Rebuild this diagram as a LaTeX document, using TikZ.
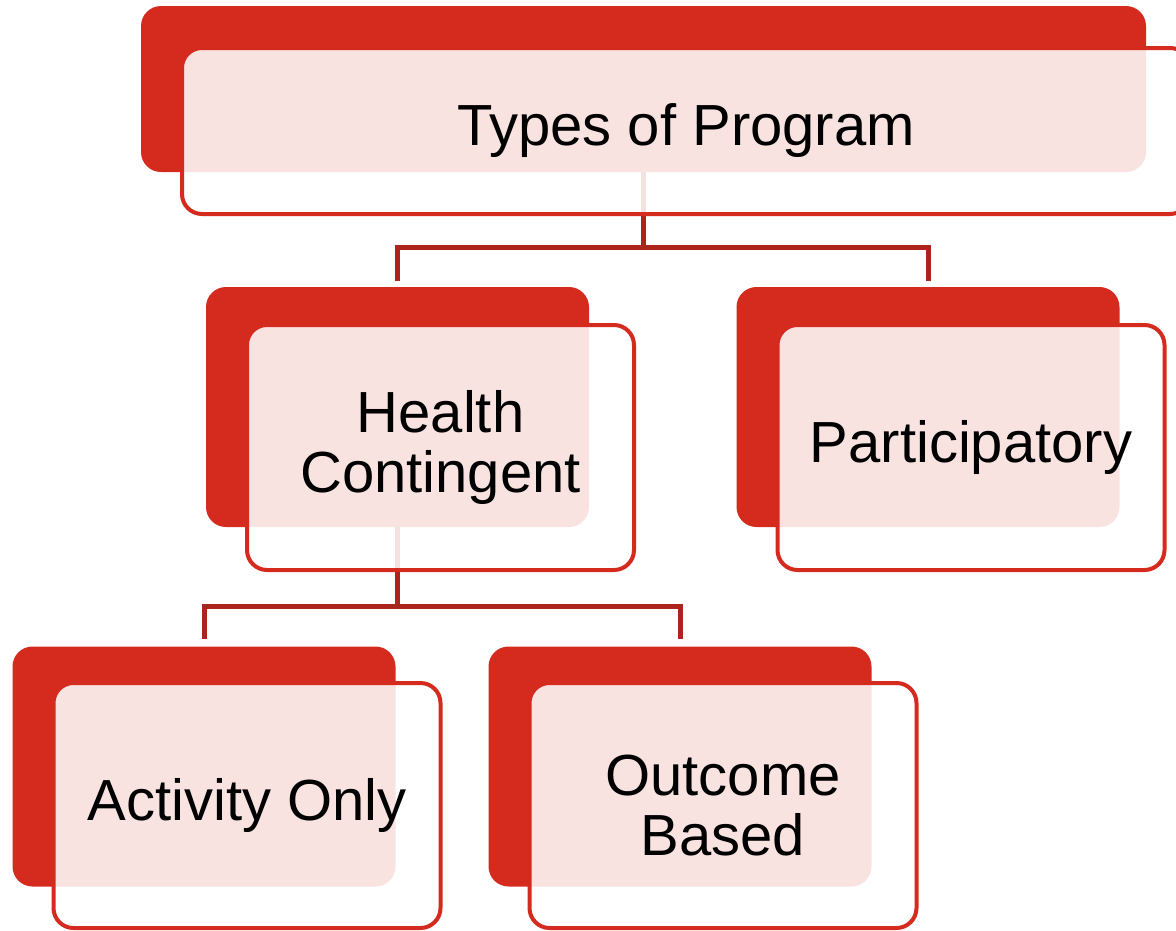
\documentclass[tikz,border=0pt]{standalone}
\usepackage{fontspec}
\setmainfont{Liberation Sans}
\usepackage{tikz}
\usetikzlibrary{calc}
\definecolor{boxred}{RGB}{213,43,30}
\definecolor{linkred}{RGB}{172,36,27}
\pgfdeclarelayer{background}
\pgfsetlayers{background,main}

\begin{document}
\begin{tikzpicture}[x=1pt,y=-1pt,
    back/.style={fill=boxred,rounded corners=20pt,minimum width=383pt,minimum height=240pt,inner sep=0pt},
    front/.style={draw=boxred,line width=4pt,fill=white,fill opacity=0.87,text opacity=1,
      rounded corners=20pt,minimum width=387pt,minimum height=245pt,inner sep=0pt,
      align=center,font=\fontsize{58}{60}\selectfont},
    link/.style={draw=linkred,line width=5pt}]
      \useasboundingbox (0,0) rectangle (1176,930);

      \node[back,minimum width=1005pt,minimum height=166pt] (progBack) at (643.5,89) {};
      \node[front,minimum width=1008pt,minimum height=166pt] (prog) at (686,131) {Types of Program};

      \node[back] (hcBack) at (397.5,407) {};
      \node[front] (hc) at (440.5,447.5) {Health\\Contingent};

      \node[back] (partBack) at (928,407) {};
      \node[front] (part) at (971,447.5) {Participatory};

      \node[back] (actBack) at (204,766.5) {};
      \node[front] (act) at (247,805.5) {Activity Only};

      \node[back] (outBack) at (680,766.5) {};
      \node[front] (out) at (723,805.5) {Outcome\\Based};

      \begin{pgfonlayer}{background}
        \draw[link] (progBack.south) -- ++(0,75) coordinate (progBar) -| ([yshift=6pt]hcBack.north);
        \draw[link] (progBar) -| ([yshift=6pt]partBack.north);
        \draw[link] (hcBack.south) -- ++(0,79) coordinate (hcBar) -| ([yshift=7pt]actBack.north);
        \draw[link] (hcBar) -| ([yshift=7pt]outBack.north);
      \end{pgfonlayer}
    \end{tikzpicture}
\end{document}
